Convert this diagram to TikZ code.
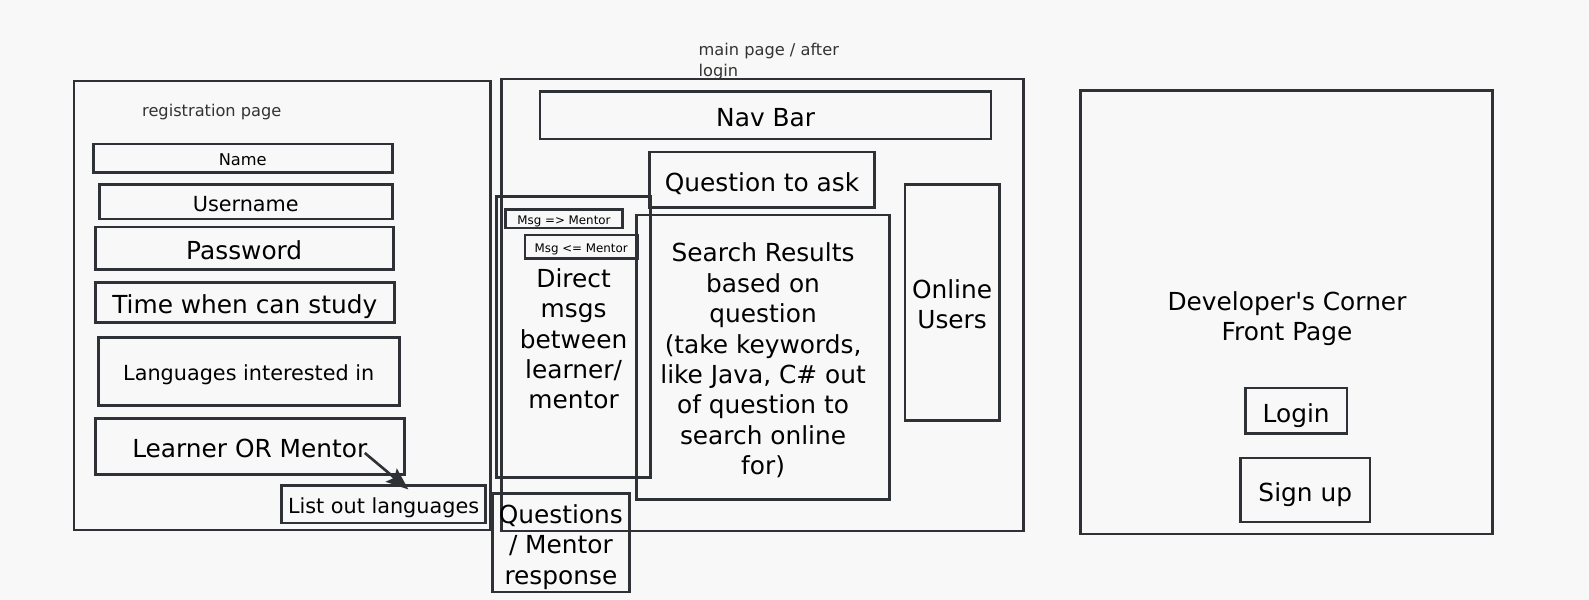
\documentclass[tikz,border=0pt]{standalone}
\usepackage{fontspec}
\setmainfont{DejaVu Sans}
\usetikzlibrary{arrows.meta}
\definecolor{bg}{HTML}{F8F8F8}
\definecolor{ln}{HTML}{2E3136}
\definecolor{lbl}{HTML}{333333}
\newcommand{\tstrut}{\rule{0pt}{1.2em}}
\begin{document}
\begin{tikzpicture}[x=0.5pt,y=-0.5pt,
  lbox/.style={inner sep=0pt, align=center, text=black,
    execute at begin node={\rule{0pt}{1.2em}},
    execute at end node={\rule[-0.3em]{0pt}{0pt}}},
  box/.style={lbox, draw=ln, line width=1.3pt},
  wh/.style n args={2}{minimum width=#1, minimum height=#2},
  fA/.style={font=\fontsize{12.25pt}{15pt}\selectfont},
  fB/.style={font=\fontsize{10.25pt}{12.5pt}\selectfont},
  fC/.style={font=\fontsize{8pt}{10pt}\selectfont},
  fD/.style={font=\fontsize{5.85pt}{7pt}\selectfont},
  conn/.style={draw=ln, line width=1.3pt, -{Stealth[length=11pt,width=8.5pt,inset=2pt]}}
]
\fill[bg] (0,0) rectangle (1568,592);
\useasboundingbox (0,0) rectangle (1568,592);

% registration page
\node[box, wh={205.5pt}{221.5pt}] (reg) at (278.5,301.5) {};
\node[lbox, fC, text=lbl] (regtitle) at (209,108) {registration page};
\node[box, fC, wh={147.5pt}{14pt}] (name) at (239.5,156) {Name};
\node[box, fB, wh={144.5pt}{17pt}] (user) at (242.5,199) {Username};
\node[box, fA, wh={147pt}{21pt}] (pass) at (241,245) {Password};
\node[box, fA, wh={147.5pt}{19.5pt}] (time) at (241.5,298.5) {Time when can study};
\node[box, fB, wh={148.5pt}{33.5pt}] (langs) at (245.5,366.5) {Languages interested in};
\node[box, fA, wh={152.5pt}{27.5pt}] (learner) at (246.5,440.5) {Learner OR Mentor};
\node[box, fB, wh={100.5pt}{18.5pt}] (list) at (378.5,497.5) {List out languages};
\coordinate (arrS) at (360,447);
\coordinate (arrE) at (403,483);
\draw[conn] (arrS) -- (arrE);

% main page
\node[box, wh={257.5pt}{223pt}] (mainbox) at (752.5,301) {};
\node[anchor=north west, inner sep=0pt, align=left, text=lbl, fC] (maintitle) at (689,42.5) {main page / after\\login};
\node[box, fA, wh={222.5pt}{23.5pt}] (nav) at (755.5,113.5) {Nav Bar};
\node[box, fA, wh={111pt}{27.5pt}] (ask) at (752,177.5) {Question to ask};
\node[box, fA, wh={76pt}{138.5pt}] (direct) at (566,332.5) {\tstrut Direct\\msgs\\between\\learner/\\mentor};
\node[box, fD, wh={57.5pt}{9pt}] (msg1) at (556.5,216) {Msg => Mentor};
\node[box, fD, wh={55.5pt}{11.5pt}] (msg2) at (573.5,243.5) {Msg <= Mentor};
\node[box, fA, wh={125pt}{140.5pt}] (search) at (753,352.5) {\tstrut Search Results\\based on\\question\\(take keywords,\\like Java, C\# out\\of question to\\search online\\for)};
\node[box, fA, wh={46.5pt}{116.5pt}] (online) at (939.5,298.5) {\tstrut Online\\Users};
\node[box, fA, wh={67.5pt}{48.5pt}] (qresp) at (553.5,535.5) {\tstrut Questions\\/ Mentor\\response};

% developer's corner
\node[box, wh={203.5pt}{219pt}] (devbox) at (1269.5,308) {};
\node[lbox, fA] (devtext) at (1270,310) {\tstrut Developer\textquotesingle s Corner\\Front Page};
\node[box, fA, wh={50pt}{22.5pt}] (login) at (1279,405.5) {Login};
\node[box, fA, wh={64pt}{31.5pt}] (signup) at (1288,483.5) {Sign up};
\end{tikzpicture}
\end{document}
